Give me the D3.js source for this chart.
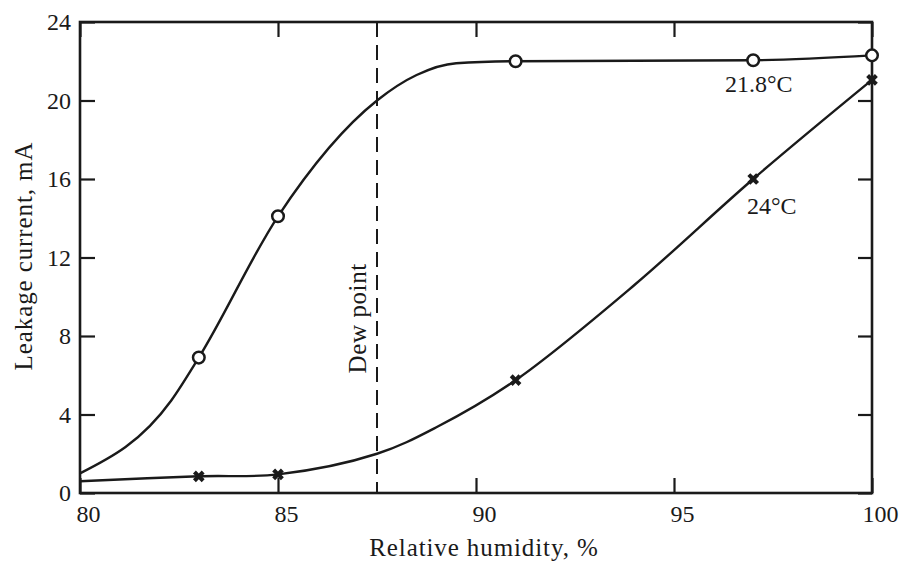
<!DOCTYPE html>
<html>
<head>
<meta charset="utf-8">
<script src="https://cdn.jsdelivr.net/npm/d3@7"></script>
<style>
  body { margin: 0; background: #fff; }
  svg { display: block; }
  text { font-family: "Liberation Serif", "DejaVu Serif", serif; fill: #1a1a1a; }
</style>
</head>
<body>
<script>
const width = 902;
const height = 561;

// measured points (markers)
const hum21 = [83, 85, 91, 97, 100];
const cur21 = [6.9, 14.1, 22.0, 22.05, 22.3];
const hum24 = [83, 85, 91, 97, 100];
const cur24 = [0.85, 0.95, 5.75, 16.0, 21.05];

// curve shape (smooth hand drawn lines)
const curveHum21 = [80, 82.3, 83, 85, 87.5, 88.5, 89.5, 91, 97, 100];
const curveCur21 = [1.0, 4.7, 6.9, 14.1, 20.0, 21.3, 21.9, 22.0, 22.05, 22.3];
const curveHum24 = [80, 83, 85, 87.5, 89, 91, 94, 97, 100];
const curveCur24 = [0.6, 0.85, 0.95, 2.0, 3.35, 5.75, 10.6, 16.0, 21.05];

const xTicks = [80, 85, 90, 95, 100];
const yTicks = [0, 4, 8, 12, 16, 20, 24];
const dewPoint = 87.5;

const svg = d3.select('body').append('svg').attr('width', width).attr('height', height);

const x = d3.scaleLinear().domain([80, 100]).range([80, 872]);
const y = d3.scaleLinear().domain([0, 24]).range([493, 22]);

const ink = '#1a1a1a';

// axes, ticks point inwards
const bottom = svg.append('g').attr('transform', `translate(0,${y(0)})`)
    .call(d3.axisBottom(x).tickValues(xTicks).tickSizeInner(-15).tickSizeOuter(0).tickPadding(12));
bottom.selectAll('text').attr('dx', 8);

const left = svg.append('g').attr('transform', `translate(${x(80)},0)`)
    .call(d3.axisLeft(y).tickValues(yTicks).tickSizeInner(-15).tickSizeOuter(0).tickPadding(9));

svg.append('g').attr('transform', `translate(0,${y(24)})`)
    .call(d3.axisTop(x).tickValues(xTicks).tickSizeInner(-15).tickSizeOuter(0).tickFormat(''));
svg.append('g').attr('transform', `translate(${x(100)},0)`)
    .call(d3.axisRight(y).tickValues(yTicks).tickSizeInner(-14).tickSizeOuter(0).tickFormat(''));

svg.selectAll('.domain').remove();
svg.selectAll('.tick line').attr('stroke', ink).attr('stroke-width', 2.2);
svg.selectAll('.tick text').style('font-size', '24px').attr('fill', ink)
    .style('font-family', '"Liberation Serif", serif');

svg.append('rect')
    .attr('x', x(80)).attr('y', y(24))
    .attr('width', x(100) - x(80)).attr('height', y(0) - y(24))
    .attr('fill', 'none').attr('stroke', ink).attr('stroke-width', 2.6);

// dew point
svg.append('line')
    .attr('x1', x(dewPoint)).attr('x2', x(dewPoint))
    .attr('y1', y(24)).attr('y2', y(0))
    .attr('stroke', ink).attr('stroke-width', 2).attr('stroke-dasharray', '15,8');

svg.append('text')
    .attr('transform', `translate(${x(dewPoint) - 11},${y(8.9)}) rotate(-90)`)
    .attr('text-anchor', 'middle')
    .style('font-size', '25px')
    .style('letter-spacing', '0.6px')
    .text('Dew point');

const line21 = d3.line()
    .x(d => x(d[0]))
    .y(d => y(d[1]))
    .curve(d3.curveMonotoneX);

const line24 = d3.line()
    .x(d => x(d[0]))
    .y(d => y(d[1]))
    .curve(d3.curveCatmullRom.alpha(0.5));

svg.append('path')
    .datum(d3.zip(curveHum21, curveCur21))
    .attr('d', line21)
    .attr('fill', 'none').attr('stroke', ink).attr('stroke-width', 2.4);

svg.append('path')
    .datum(d3.zip(curveHum24, curveCur24))
    .attr('d', line24)
    .attr('fill', 'none').attr('stroke', ink).attr('stroke-width', 2.4);

// circles for 21.8 C
svg.selectAll('circle.m21')
    .data(d3.zip(hum21, cur21))
    .enter()
    .append('circle')
    .attr('class', 'm21')
    .attr('cx', d => x(d[0]))
    .attr('cy', d => y(d[1]))
    .attr('r', 5.8)
    .attr('fill', '#fff').attr('stroke', ink).attr('stroke-width', 2.5);

// crosses for 24 C
const cross = d3.symbol().type(d3.symbolCross).size(85);
svg.selectAll('path.m24')
    .data(d3.zip(hum24, cur24))
    .enter()
    .append('path')
    .attr('class', 'm24')
    .attr('d', cross)
    .attr('transform', d => `translate(${x(d[0])},${y(d[1])}) rotate(45)`)
    .attr('fill', ink);

// series labels
svg.append('text').attr('x', 725).attr('y', 92).style('font-size', '24px').text('21.8°C');
svg.append('text').attr('x', 747).attr('y', 214).style('font-size', '24px').text('24°C');

// axis titles
svg.append('text')
    .attr('x', 484).attr('y', 556)
    .attr('text-anchor', 'middle')
    .style('font-size', '25px')
    .style('letter-spacing', '0.9px')
    .text('Relative humidity, %');

svg.append('text')
    .attr('transform', `translate(32,256) rotate(-90)`)
    .attr('text-anchor', 'middle')
    .style('font-size', '25px')
    .style('letter-spacing', '0.9px')
    .text('Leakage current, mA');
</script>
</body>
</html>
